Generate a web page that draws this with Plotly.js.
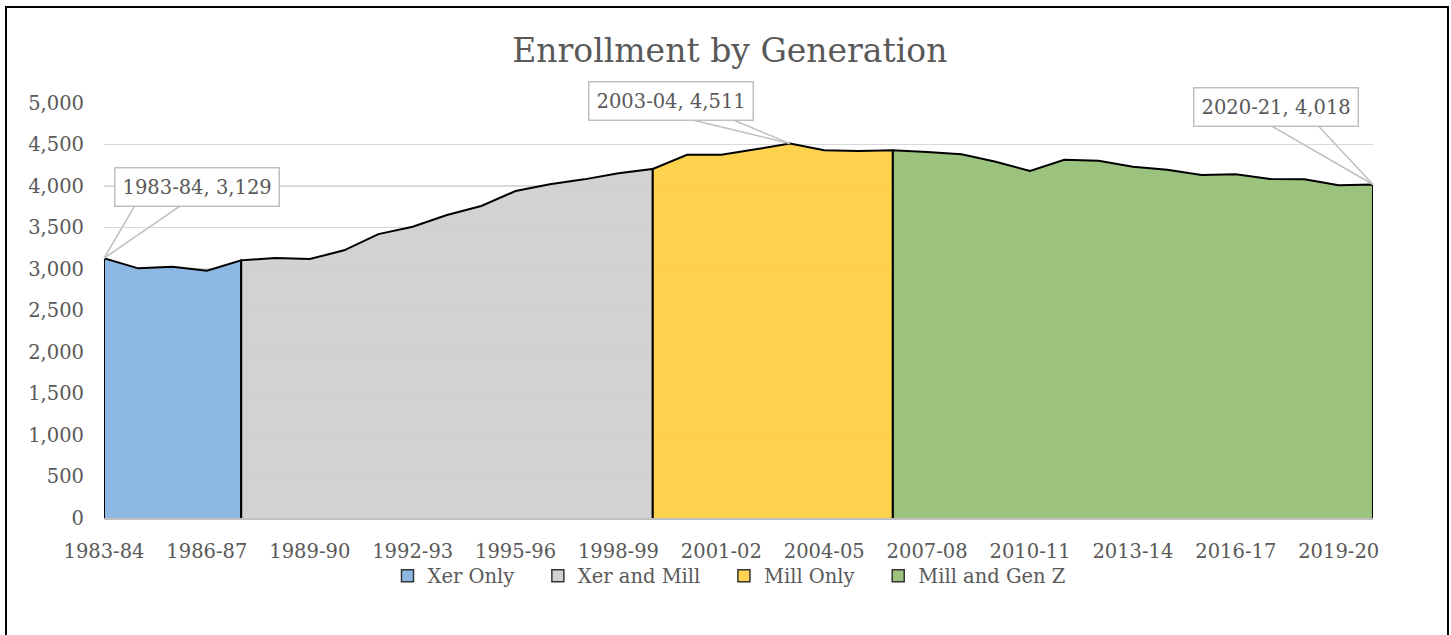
<!DOCTYPE html>
<html>
<head>
<meta charset="utf-8">
<script src="https://cdn.plot.ly/plotly-3.0.1.min.js"></script>
<style>
  html, body { margin: 0; padding: 0; background: #fff; overflow: hidden; }
  #chart { width: 1451px; height: 635px; }
  #frame { position: absolute; left: 5px; top: 6px; width: 1440px; height: 700px;
           border: 2px solid #000; pointer-events: none; }
</style>
</head>
<body>
<div id="chart"></div>
<div id="frame"></div>
<script>
// ---- data ----
const years = [
  "1983-84","1984-85","1985-86","1986-87","1987-88","1988-89","1989-90","1990-91",
  "1991-92","1992-93","1993-94","1994-95","1995-96","1996-97","1997-98","1998-99",
  "1999-00","2000-01","2001-02","2002-03","2003-04","2004-05","2005-06","2006-07",
  "2007-08","2008-09","2009-10","2010-11","2011-12","2012-13","2013-14","2014-15",
  "2015-16","2016-17","2017-18","2018-19","2019-20","2020-21"
];
const enrollment = [
  3129, 3008, 3028, 2980, 3104, 3133, 3120, 3225,
  3420, 3510, 3651, 3759, 3940, 4020, 4080, 4153,
  4205, 4377, 4377, 4442, 4511, 4430, 4422, 4430,
  4410, 4382, 4293, 4181, 4317, 4305, 4233, 4197,
  4133, 4141, 4084, 4080, 4008, 4018
];
const seriesNames = ["Xer Only", "Xer and Mill", "Mill Only", "Mill and Gen Z"];
const segStart = ["1983-84", "1987-88", "1999-00", "2006-07"];
const segEnd   = ["1987-88", "1999-00", "2006-07", "2020-21"];
const fills = ["rgba(128,176,224,0.9)", "rgba(205,205,205,0.9)", "rgba(255,205,59,0.9)", "rgba(144,188,112,0.9)"];
const swatches = ["#8DB8E3", "#D2D2D2", "#FFD24F", "#9BC37E"];
const callouts = ["1983-84", "2003-04", "2020-21"];
const tickLabels = years.filter((_, i) => i % 3 === 0);

const FONT = "DejaVu Serif";
const GREY = "#595959";
const FS = 19.5;

const traces = seriesNames.map((name, k) => {
  const a = years.indexOf(segStart[k]);
  const b = years.indexOf(segEnd[k]);
  const xs = years.slice(a, b + 1);
  const ys = enrollment.slice(a, b + 1);
  return {
    type: "scatter", mode: "lines", name: name, showlegend: false,
    x: [xs[0]].concat(xs, [xs[xs.length - 1]]),
    y: [0].concat(ys, [0]),
    fill: "tozeroy", fillcolor: fills[k],
    line: { color: "#000", width: 2 },
    hoverinfo: "skip"
  };
});
// legend entries (square swatches)
seriesNames.forEach((name, k) => traces.push({
  type: "scatter", mode: "markers", name: name + "\u00a0\u00a0\u00a0", x: [null], y: [null],
  marker: { symbol: "square", size: 12, color: swatches[k], line: { color: "#333", width: 1.5 } },
  hoverinfo: "skip"
}));

// callout boxes with wedge leaders
const boxOff = { "1983-84": [93, -71], "2003-04": [-119, -43], "2020-21": [-97, -78] };
const wedgeOff = {
  "1983-84": [[31, -53], [77, -53]],
  "2003-04": [[-103, -25], [-60, -25]],
  "2020-21": [[-104, -60], [-56, -60]]
};
const annotations = [];
callouts.forEach(c => {
  const v = enrollment[years.indexOf(c)];
  wedgeOff[c].forEach(o => annotations.push({
    x: c, y: v, xref: "x", yref: "y", text: "", showarrow: true,
    ax: o[0], ay: o[1], arrowhead: 0, arrowwidth: 1.5, arrowcolor: "#BFBFBF",
    standoff: 0, startstandoff: 0
  }));
  annotations.push({
    x: c, y: v, xref: "x", yref: "y",
    text: c + ", " + v.toLocaleString("en-US"),
    showarrow: true, arrowcolor: "rgba(0,0,0,0)", arrowwidth: 0.1,
    ax: boxOff[c][0], ay: boxOff[c][1],
    bgcolor: "#fff", bordercolor: "#BFBFBF", borderwidth: 1.5, borderpad: 7,
    font: { family: FONT, size: FS, color: GREY }
  });
});

const layout = {
  width: 1451, height: 635,
  margin: { l: 104, r: 78, t: 103, b: 117 },
  paper_bgcolor: "#fff", plot_bgcolor: "#fff",
  font: { family: FONT, color: GREY, size: FS },
  title: {
    text: "Enrollment by Generation",
    font: { family: FONT, size: 33, color: GREY },
    x: 0.503, xref: "container", xanchor: "center",
    y: 0.921, yref: "container", yanchor: "middle"
  },
  xaxis: {
    type: "category", categoryorder: "array", categoryarray: years,
    range: [0, years.length - 1],
    tickmode: "array", tickvals: tickLabels, ticktext: tickLabels,
    showgrid: false, zeroline: false,
    showline: true, linecolor: "#BFBFBF", linewidth: 1.5,
    ticks: "", ticklabelstandoff: 15,
    tickfont: { family: FONT, size: FS, color: GREY }
  },
  yaxis: {
    range: [0, 5000], dtick: 500, tickformat: ",d",
    showgrid: true, gridcolor: "#D9D9D9", gridwidth: 1.5,
    zeroline: false, showline: false, ticks: "",
    ticklabelstandoff: 19,
    tickfont: { family: FONT, size: FS, color: GREY }
  },
  showlegend: true,
  legend: {
    orientation: "h", x: 0.5, xanchor: "center", y: -0.14, yanchor: "middle",
    bgcolor: "rgba(0,0,0,0)",
    font: { family: FONT, size: FS, color: GREY },
    itemwidth: 30, traceorder: "normal"
  },
  annotations: annotations
};

Plotly.newPlot("chart", traces, layout, { displayModeBar: false, staticPlot: true });
</script>
</body>
</html>
